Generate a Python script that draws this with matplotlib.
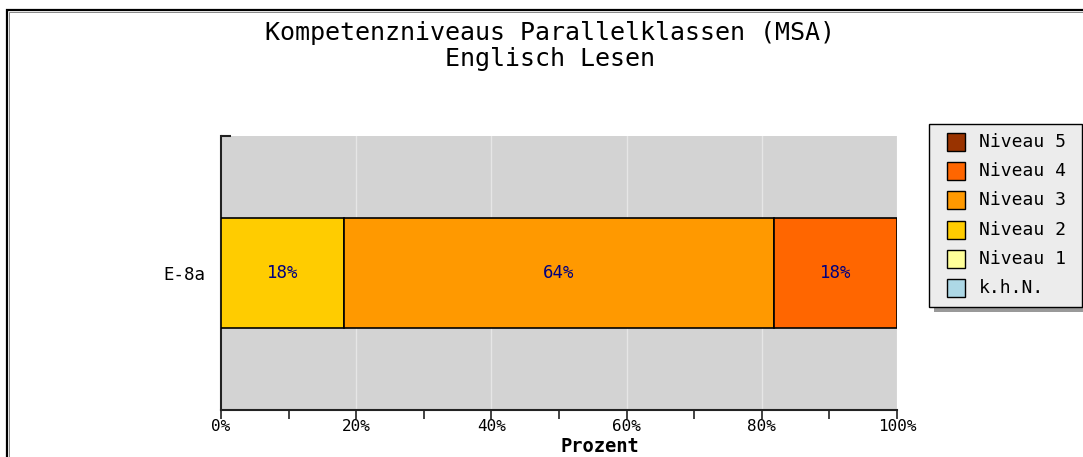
import matplotlib.pyplot as plt
from matplotlib.patches import Rectangle
import numpy as np

# data
klassen = ["E-8a"]
niveaus = ["k.h.N.", "Niveau 1", "Niveau 2", "Niveau 3", "Niveau 4", "Niveau 5"]
anteile = [0.0, 0.0, 18.18, 63.64, 18.18, 0.0]   # Prozent
farben = ["#add8e6", "#ffff99", "#ffcc00", "#ff9900", "#ff6600", "#993300"]

W, H = 1083, 457
fig = plt.figure(figsize=(W / 100, H / 100), dpi=100)
mono = "DejaVu Sans Mono"

ax = fig.add_axes([221 / W, 47 / H, 676 / W, 274 / H])
ax.set_facecolor("#d3d3d3")

y = np.arange(len(klassen))
links = np.zeros(len(klassen))
for name, wert, farbe in zip(niveaus, anteile, farben):
    if wert > 0:
        ax.barh(y, wert, left=links, height=0.4, color=farbe,
                edgecolor="black", linewidth=1.2, zorder=3)
        ax.text(links[0] + wert / 2, y[0], f"{wert:.0f}%", ha="center", va="center",
                color="#000080", fontsize=12.5, family=mono, zorder=4)
    links = links + wert

ax.set_xlim(0, 100)
ax.set_ylim(-0.5, 0.5)
ax.set_xticks(np.arange(0, 101, 20))
ax.set_xticklabels([f"{v}%" for v in range(0, 101, 20)], family=mono, fontsize=11.5)
ax.set_xticks(np.arange(10, 100, 20), minor=True)
ax.tick_params(axis="x", which="both", direction="out", length=6.5, width=1.2,
               color="#222222", pad=0)
ax.grid(axis="x", which="major", color="#e6e6e6", linewidth=1, zorder=1)

ax.set_yticks(y)
ax.set_yticklabels(klassen, family=mono, fontsize=12.5)
ax.set_yticks([0.5], minor=True)
ax.tick_params(axis="y", which="major", length=0, pad=11)
ax.tick_params(axis="y", which="minor", direction="in", length=7.5, width=1.5,
               color="#222222")

for s in ["top", "right"]:
    ax.spines[s].set_visible(False)
for s in ["left", "bottom"]:
    ax.spines[s].set_color("#222222")
    ax.spines[s].set_linewidth(1.5)

# titles
fig.text(550 / W, 1 - 40 / H, "Kompetenzniveaus Parallelklassen (MSA)",
         ha="center", va="baseline", fontsize=18, family=mono)
fig.text(550 / W, 1 - 66 / H, "Englisch Lesen",
         ha="center", va="baseline", fontsize=18, family=mono)
fig.text(600 / W, 1 - 447 / H, "Prozent", ha="center", va="center",
         fontsize=13.5, family=mono, fontweight="bold")

# legend box
lx, ly, lw, lh = 929, 124, 153, 183
fig.add_artist(Rectangle(((lx + 5) / W, 1 - (ly + lh + 5) / H), lw / W, lh / H,
                         transform=fig.transFigure, facecolor="#999999",
                         edgecolor="none"))
fig.add_artist(Rectangle((lx / W, 1 - (ly + lh) / H), lw / W, lh / H,
                         transform=fig.transFigure, facecolor="#ececec",
                         edgecolor="black", linewidth=1))
for i, (name, farbe) in enumerate(zip(niveaus[::-1], farben[::-1])):
    cy = 142 + i * 29.2
    fig.add_artist(Rectangle((947 / W, 1 - (cy + 9) / H), 18 / W, 18 / H,
                             transform=fig.transFigure, facecolor=farbe,
                             edgecolor="black", linewidth=1))
    fig.text(979 / W, 1 - cy / H, name, ha="left", va="center",
             fontsize=13, family=mono)

# outer frame
fig.add_artist(Rectangle((7 / W, -0.1), 2, (H - 10) / H + 0.1,
                         transform=fig.transFigure, fill=False,
                         edgecolor="black", linewidth=1.6))
fig.add_artist(Rectangle((8.8 / W, -0.1), 2, (H - 11.8) / H + 0.1,
                         transform=fig.transFigure, fill=False,
                         edgecolor="#888888", linewidth=0.7))

fig.savefig("out.png", dpi=100)
